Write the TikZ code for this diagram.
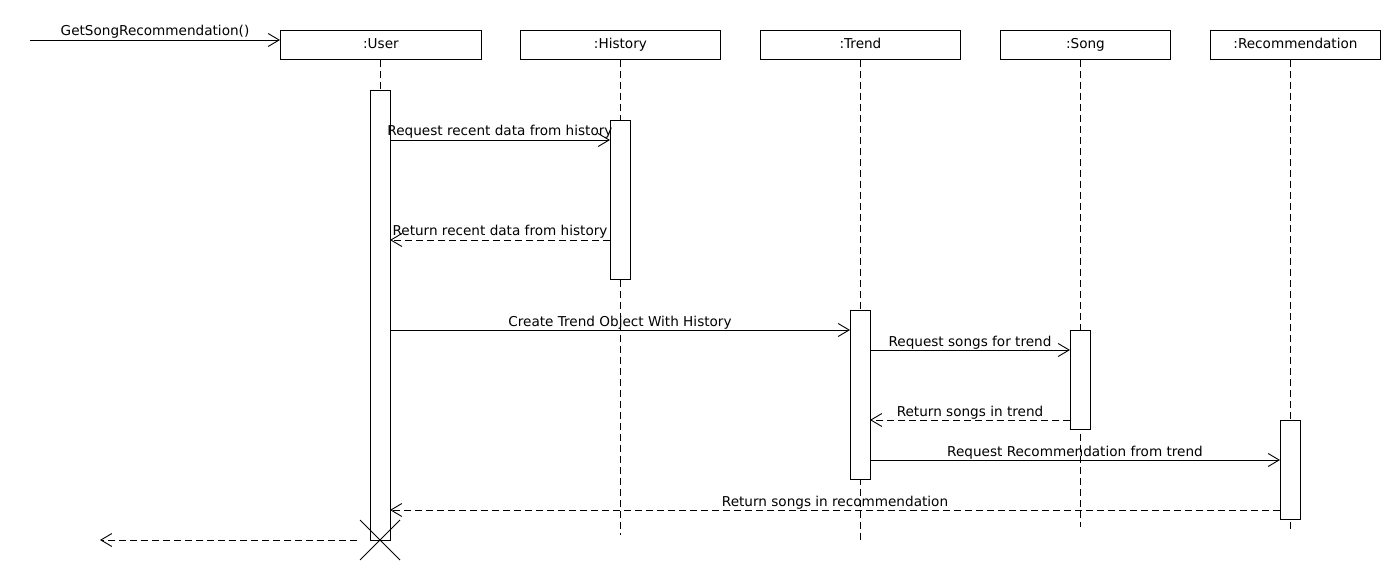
\documentclass[tikz,border=0pt]{standalone}
\usepackage{fontspec}
\setmainfont{DejaVu Sans}
\usetikzlibrary{arrows.meta,calc}
\begin{document}
\begin{tikzpicture}[x=1pt,y=-1pt,
  every node/.style={font=\fontsize{13.6}{16}\selectfont},
  obj/.style={draw,line width=0.9pt,fill=white,anchor=north west,inner sep=0pt,minimum height=29pt,text height=10pt,text depth=3pt},
  actbox/.style={draw,line width=0.9pt,fill=white,anchor=north,inner sep=0pt,minimum width=20pt},
  life/.style={line width=0.9pt,dash pattern=on 7pt off 4pt},
  msg/.style={line width=0.9pt,-{Straight Barb[length=11pt,width=13pt,line width=0.9pt]}},
  ret/.style={msg,dash pattern=on 7pt off 4pt},
  lbl/.style={anchor=base,inner sep=0pt,yshift=4pt}]
\useasboundingbox (0,0) rectangle (1400,580);
% objects
\node[obj,minimum width=201pt] (user) at (280,30) {:User};
\node[obj,minimum width=200pt] (hist) at (520,30) {:History};
\node[obj,minimum width=200pt] (trend) at (760,30) {:Trend};
\node[obj,minimum width=170pt] (song) at (1000,30) {:Song};
\node[obj,minimum width=170pt] (rec) at (1210,30) {:Recommendation};
% lifeline ends
\coordinate (uend) at (380,540);
\coordinate (hend) at (620,535);
\coordinate (tend) at (860,540);
\coordinate (send) at (1080,527);
\coordinate (rend) at (1290,529);
\draw[life] (uend |- user.south) -- (uend);
\draw[life] (hend |- hist.south) -- (hend);
\draw[life] (tend |- trend.south) -- (tend);
\draw[life] (send |- song.south) -- (send);
\draw[life] (rend |- rec.south) -- (rend);
% activations
\node[actbox,minimum height=450pt] (ua) at (380,90) {};
\node[actbox,minimum height=159pt] (ha) at (620,120) {};
\node[actbox,minimum height=169pt] (ta) at (860,310) {};
\node[actbox,minimum height=99pt] (sa) at (1080,330) {};
\node[actbox,minimum height=99pt] (ra) at (1290,420) {};
% message endpoints
\coordinate (start) at (30,40);
\coordinate (m1a) at (390,140); \coordinate (m1b) at (610,140);
\coordinate (m2a) at (610,240); \coordinate (m2b) at (390,240);
\coordinate (m3a) at (390,330); \coordinate (m3b) at (850,330);
\coordinate (m4a) at (870,350); \coordinate (m4b) at (1070,350);
\coordinate (m5a) at (1070,420); \coordinate (m5b) at (870,420);
\coordinate (m6a) at (870,460); \coordinate (m6b) at (1280,460);
\coordinate (m7a) at (1280,510); \coordinate (m7b) at (390,510);
\coordinate (m8a) at (357,540); \coordinate (m8b) at (100,540);
% messages
\draw[msg] (start) -- node[lbl]{GetSongRecommendation()} (user.west |- start);
\draw[msg] (m1a) -- node[lbl]{Request recent data from history} (m1b);
\draw[ret] (m2a) -- node[lbl]{Return recent data from history} (m2b);
\draw[msg] (m3a) -- node[lbl]{Create Trend Object With History} (m3b);
\draw[msg] (m4a) -- node[lbl]{Request songs for trend} (m4b);
\draw[ret] (m5a) -- node[lbl]{Return songs in trend} (m5b);
\draw[msg] (m6a) -- node[lbl]{Request Recommendation from trend} (m6b);
\draw[ret] (m7a) -- node[lbl]{Return songs in recommendation} (m7b);
\draw[ret] (m8a) -- (m8b);
% destruction
\draw[line width=0.9pt] ($(uend)+(-20,-20)$) -- ($(uend)+(20,20)$);
\draw[line width=0.9pt] ($(uend)+(-20,20)$) -- ($(uend)+(20,-20)$);
\end{tikzpicture}
\end{document}
